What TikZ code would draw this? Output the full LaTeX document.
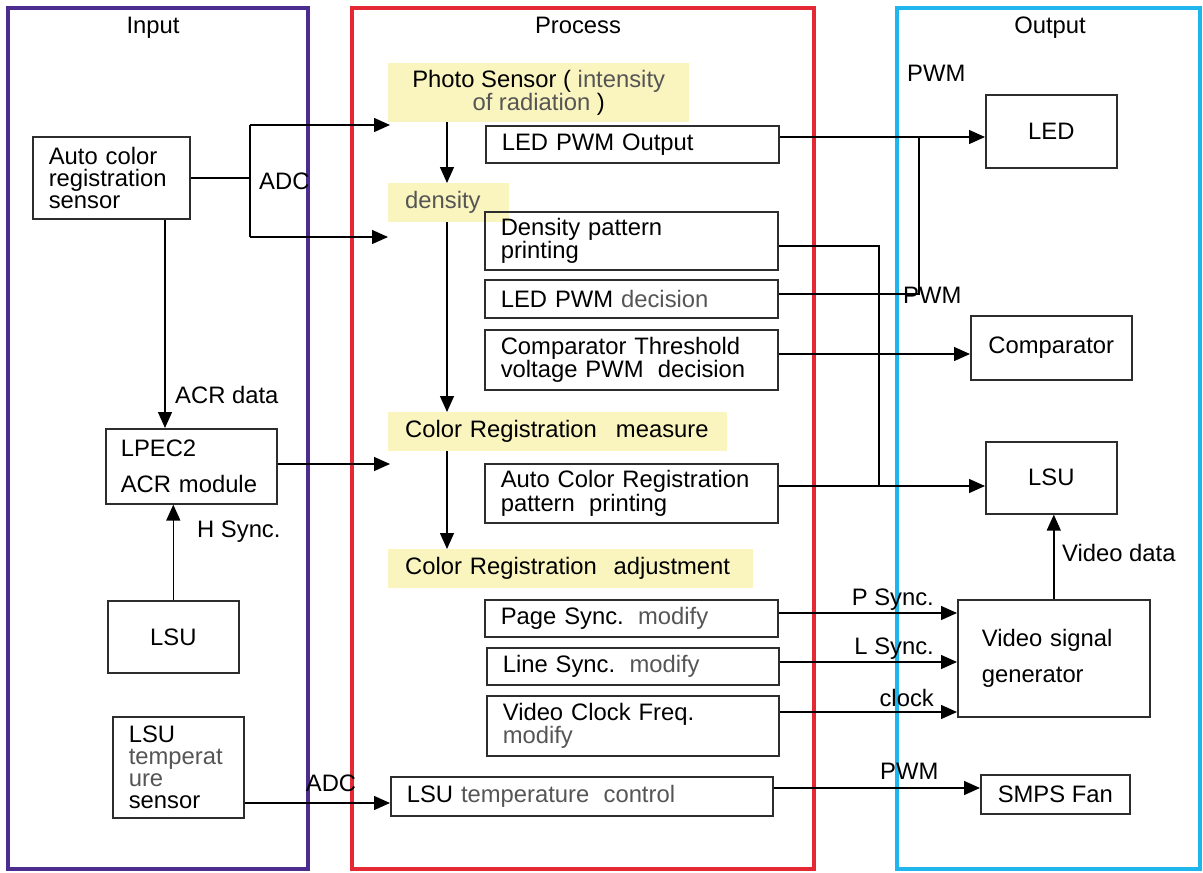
\documentclass[tikz,border=0pt]{standalone}
\usepackage{fontspec}
\setmainfont{Liberation Sans}
\usetikzlibrary{arrows.meta}
\definecolor{inpurple}{RGB}{76,45,143}
\definecolor{procred}{RGB}{228,40,52}
\definecolor{outcyan}{RGB}{30,182,236}
\definecolor{hiyellow}{RGB}{250,245,190}
\definecolor{boxline}{RGB}{45,45,45}
\definecolor{soft}{RGB}{85,85,85}
\newcommand\lbl{\fontsize{23.8}{21.7}\selectfont}
\tikzset{
  panel/.style={line width=4pt},
  blk/.style={draw=boxline,line width=1.6pt,anchor=north west,inner xsep=16pt,inner ysep=0pt,align=left},
  cbox/.style={draw=boxline,line width=1.6pt,anchor=north west,inner sep=0pt,align=center},
  hilite/.style={fill=hiyellow,anchor=north west,inner ysep=0pt},
  wire/.style={line width=1.4pt},
  arr/.style={wire,-{Triangle[length=16pt,width=14pt]}},
  tag/.style={inner sep=0pt}
}

\begin{document}
\begin{tikzpicture}[x=1pt,y=-1pt,font=\lbl]
\useasboundingbox (0,0) rectangle (1203,873);
% the three columns
\draw[panel,inpurple] (8,8) rectangle (308,869);
\draw[panel,procred] (352,8) rectangle (814,869);
\draw[panel,outcyan] (897,8) rectangle (1200,869);
\node[tag,anchor=base] (tin) at (153,33) {Input};
\node[tag,anchor=base] (tproc) at (578,33) {Process};
\node[tag,anchor=base] (tout) at (1050,33) {Output};
% input side
\node[blk,text width=125pt,minimum height=82pt] (acs) at (32,136) {Auto color\\registration\\sensor};
\node[blk,inner xsep=15pt,text width=141pt,minimum height=75pt] (lpec) at (105,428) {LPEC2\\[15pt]ACR module};
\node[cbox,minimum width=131pt,minimum height=72pt] (lsuin) at (107,600) {LSU};
\node[blk,text width=99pt,minimum height=101pt] (tsens) at (112,716) {LSU\\{\color{soft}temperat}\\{\color{soft}ure}\\sensor};
% process side
\node[hilite,minimum width=301pt,minimum height=59pt,align=center] (photo) at (388,63) {Photo Sensor ( {\color{soft}intensity}\\{\color{soft}of\ radiation} )};
\node[hilite,inner xsep=17pt,text width=87pt,minimum height=39pt,align=left] (dens) at (388,183) {\color{soft}density};
\node[hilite,inner xsep=17pt,text width=305pt,minimum height=39pt,align=left] (meas) at (388,412) {Color Registration\hspace{0.8em}measure};
\node[hilite,inner xsep=17pt,text width=331pt,minimum height=39pt,align=left] (adj) at (388,549) {Color Registration\hspace{0.7em}adjustment};
\node[blk,text width=261pt,minimum height=37pt] (ledout) at (485,125) {LED PWM Output};
\node[blk,text width=261pt,minimum height=58pt] (dpp) at (484,211) {Density pattern\\printing};
\node[blk,text width=261pt,minimum height=38pt] (ledpwm) at (484,279) {LED PWM {\color{soft}decision}};
\node[blk,text width=261pt,minimum height=60pt] (cmpth) at (484,329) {Comparator Threshold\\voltage PWM\hspace{0.6em}decision};
\node[blk,text width=261pt,minimum height=59pt] (acrpp) at (484,463) {Auto Color Registration\\pattern\hspace{0.6em}printing};
\node[blk,text width=261pt,minimum height=37pt] (psync) at (484,599) {Page Sync.\hspace{0.6em}{\color{soft}modify}};
\node[blk,text width=260pt,minimum height=37pt] (lsync) at (486,647) {Line Sync.\hspace{0.6em}{\color{soft}modify}};
\node[blk,text width=260pt,minimum height=60pt] (vclk) at (486,695) {Video Clock Freq.\\{\color{soft}modify}};
\node[blk,text width=350pt,minimum height=39pt] (lsutc) at (390,776) {LSU {\color{soft}temperature\hspace{0.6em}control}};
% output side
\node[cbox,minimum width=131pt,minimum height=73pt] (led) at (985,94) {LED};
\node[cbox,minimum width=161pt,minimum height=64pt] (comp) at (970,315) {Comparator};
\node[cbox,minimum width=131pt,minimum height=72pt] (lsuout) at (985,441) {LSU};
\node[blk,inner xsep=24pt,text width=144pt,minimum height=117pt] (vsg) at (957,599) {Video signal\\[15pt]generator};
\node[cbox,minimum width=149pt,minimum height=39pt] (smps) at (980,774) {SMPS Fan};
% input connectors
\coordinate (adctop) at (250,125);
\coordinate (adcbot) at (250,237);
\coordinate (phin) at (390,125);
\coordinate (dnin) at (388,237);
\draw[wire] (acs.east) -- (acs.east -| adctop);
\draw[wire] (adctop) -- (adcbot);
\draw[arr] (adctop) -- (phin);
\draw[arr] (adcbot) -- (dnin);
\node[tag,anchor=west] (adc1) at (259,181) {ADC};
\coordinate (acrx) at (165,0);
\draw[arr] (acs.south -| acrx) -- (lpec.north -| acrx);
\node[tag,anchor=west] (acrd) at (175,395) {ACR data};
\draw[arr] (lsuin.north) -- (lsuin.north |- lpec.south);
\node[tag,anchor=west] (hsync) at (197,532) {H Sync.};
\coordinate (measin) at (390,464);
\draw[arr] (lpec.east |- measin) -- (measin);
\coordinate (tsy) at (0,803);
\draw[arr] (tsens.east |- tsy) -- (lsutc.west |- tsy);
\node[tag] (adc2) at (331,783) {ADC};
% process chain
\coordinate (spine) at (447,0);
\draw[arr] (photo.south -| spine) -- (dens.north -| spine);
\draw[arr] (dens.south -| spine) -- (meas.north -| spine);
\draw[arr] (meas.south -| spine) -- (adj.north -| spine);
% output connectors
\coordinate (ledy) at (0,137);
\draw[arr] (ledout.east |- ledy) -- (led.west |- ledy);
\coordinate (pwmj) at (919,137);
\coordinate (pwmy) at (0,294);
\draw[wire] (ledpwm.east |- pwmy) -| (pwmj);
\node[tag,anchor=west] (pwm1) at (907,73) {PWM};
\node[tag,anchor=west] (pwm2) at (903,295) {PWM};
\coordinate (dppj) at (879,486);
\coordinate (dppy) at (0,246);
\draw[wire] (dpp.east |- dppy) -| (dppj);
\coordinate (cmpy) at (0,354);
\draw[arr] (cmpth.east |- cmpy) -- (comp.west |- cmpy);
\coordinate (lsuy) at (0,486);
\draw[arr] (acrpp.east |- lsuy) -- (lsuout.west |- lsuy);
\draw[arr] (vsg.north) -- (vsg.north |- lsuout.south);
\node[tag,anchor=west] (vdat) at (1062,553) {Video data};
\coordinate (py) at (0,613);
\coordinate (ly) at (0,662);
\coordinate (cy) at (0,712);
\draw[arr] (psync.east |- py) -- (vsg.west |- py);
\draw[arr] (lsync.east |- ly) -- (vsg.west |- ly);
\draw[arr] (vclk.east |- cy) -- (vsg.west |- cy);
\node[tag,anchor=east] (psl) at (934,600) {P Sync.};
\node[tag,anchor=east] (lsl) at (934,649) {L Sync.};
\node[tag,anchor=east] (clk) at (934,698) {clock};
\coordinate (fany) at (0,788);
\draw[arr] (lsutc.east |- fany) -- (smps.west |- fany);
\node[tag,anchor=west] (pwm3) at (880,771) {PWM};
\end{tikzpicture}
\end{document}
